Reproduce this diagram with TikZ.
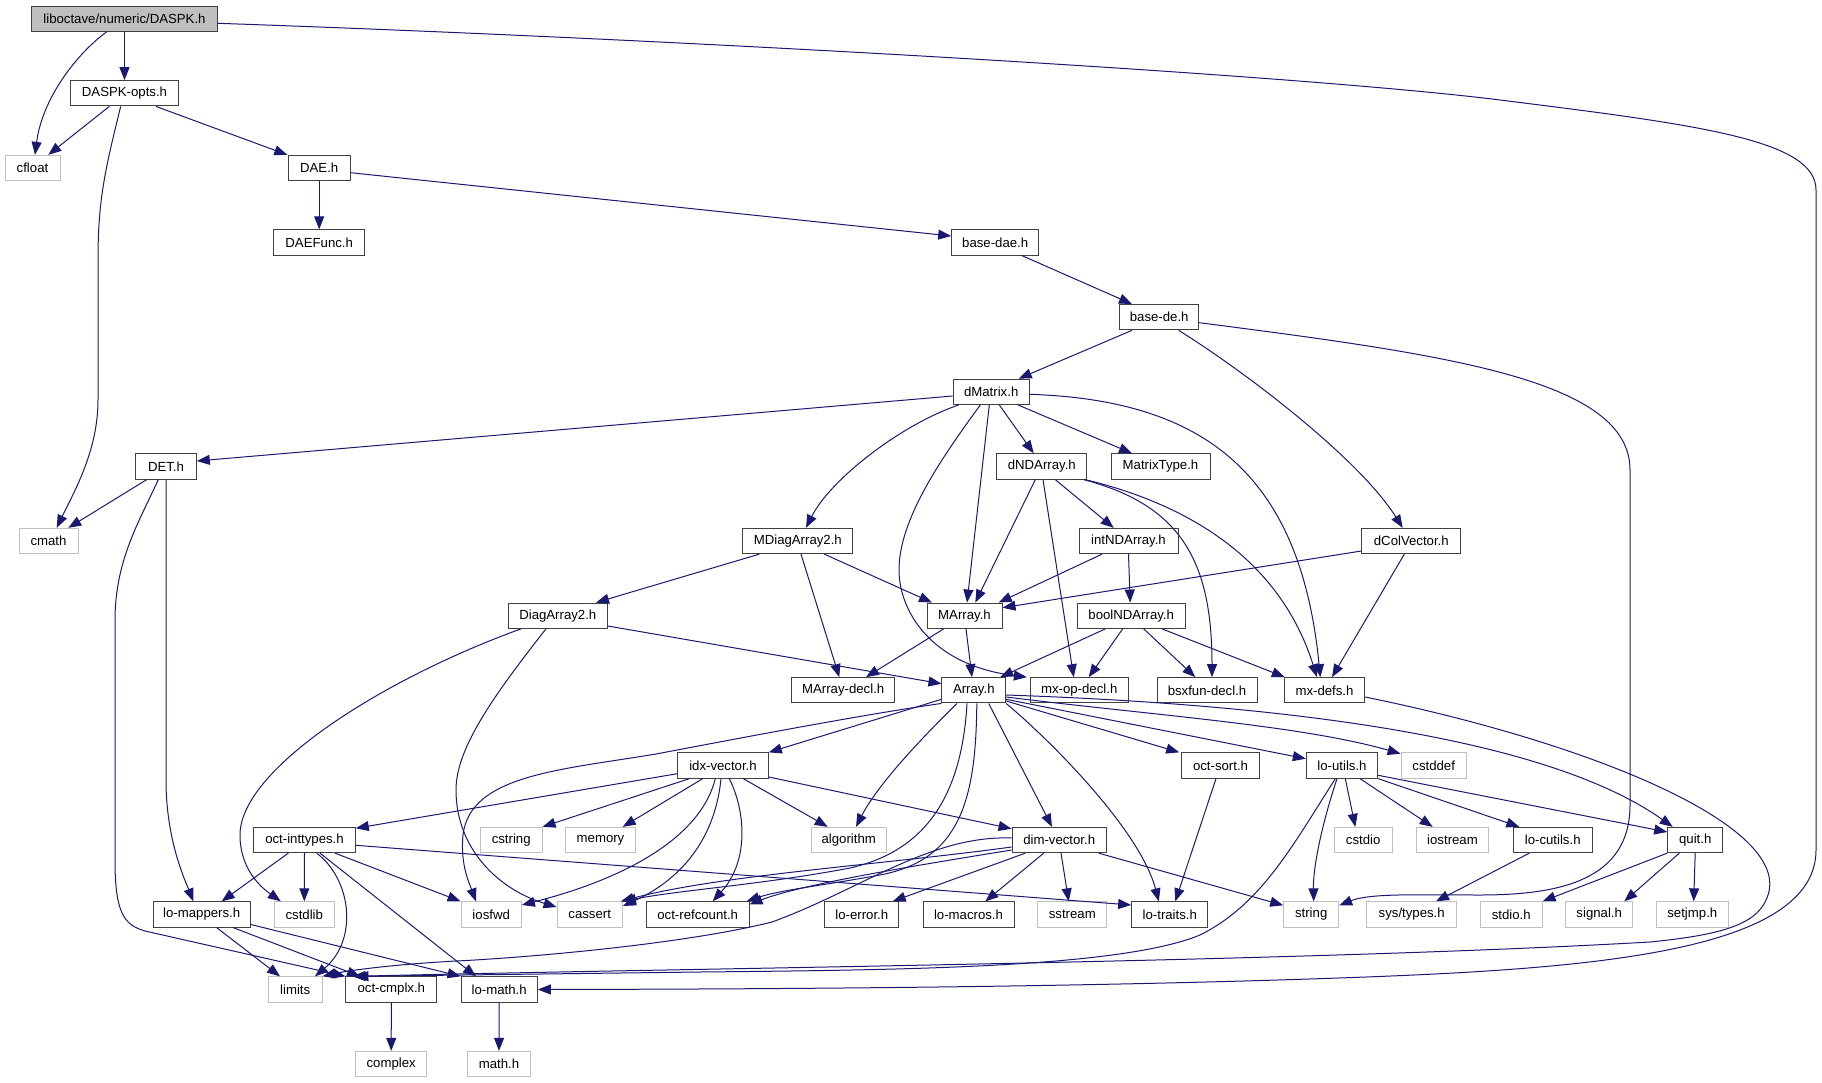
\documentclass[tikz,border=0pt]{standalone}
\usepackage{fontspec}
\setmainfont{Liberation Sans}
\usetikzlibrary{arrows.meta}
\definecolor{edgecol}{RGB}{25,25,112}
\definecolor{lgray}{RGB}{191,191,191}
\definecolor{bord}{RGB}{64,64,64}
\begin{document}
\begin{tikzpicture}[x=1pt,y=-1pt,
  every node/.style={font=\fontsize{13.2}{15}\selectfont, inner sep=0pt, minimum height=25.3pt, line width=1pt, text=black},
  nb/.style={draw=bord, fill=white},
  ng/.style={draw=lgray, fill=white},
  nr/.style={draw=bord, fill=lgray},
  e/.style={draw=edgecol, line width=1pt, -{Triangle[length=13pt,width=10pt]}}]
\useasboundingbox (0,0) rectangle (1822,1083);
% nodes
\node[nr, minimum width=185.6pt] (root) at (124.5,18.7) {liboctave/numeric/DASPK.h};
\node[nb, minimum width=108.4pt] (opts) at (124.5,93.3) {DASPK-opts.h};
\node[ng, minimum width=55pt] (cfloat) at (32.5,168) {cfloat};
\node[nb, minimum width=61.7pt] (dae) at (319.2,168) {DAE.h};
\node[nb, minimum width=91pt] (daefunc) at (319.2,242.5) {DAEFunc.h};
\node[nb, minimum width=87pt] (basedae) at (995.2,242.5) {base-dae.h};
\node[nb, minimum width=79pt] (basede) at (1159.2,317.2) {base-de.h};
\node[nb, minimum width=76.3pt] (dmatrix) at (991.2,391.8) {dMatrix.h};
\node[nb, minimum width=60.6pt] (det) at (166,466.5) {DET.h};
\node[nb, minimum width=90.3pt] (dnd) at (1041.8,466.5) {dNDArray.h};
\node[nb, minimum width=99pt] (mtype) at (1160.5,466.5) {MatrixType.h};
\node[ng, minimum width=59pt] (cmath) at (48.5,541) {cmath};
\node[nb, minimum width=109.7pt] (mdiag) at (797.8,541) {MDiagArray2.h};
\node[nb, minimum width=99pt] (intnd) at (1128.5,541) {intNDArray.h};
\node[nb, minimum width=98.7pt] (dcol) at (1411.3,541) {dColVector.h};
\node[nb, minimum width=99pt] (diag) at (557.8,615.7) {DiagArray2.h};
\node[nb, minimum width=75pt] (marray) at (964.5,615.7) {MArray.h};
\node[nb, minimum width=108.3pt] (boolnd) at (1131.2,615.7) {boolNDArray.h};
\node[nb, minimum width=103pt] (mdecl) at (843.2,690.3) {MArray-decl.h};
\node[nb, minimum width=63.7pt] (array) at (973.8,690.3) {Array.h};
\node[nb, minimum width=97.7pt] (mxop) at (1079.2,690.3) {mx-op-decl.h};
\node[nb, minimum width=100pt] (bsx) at (1207,690.3) {bsxfun-decl.h};
\node[nb, minimum width=80.4pt] (mxdefs) at (1324.5,690.3) {mx-defs.h};
\node[nb, minimum width=90.6pt] (idx) at (723,765.5) {idx-vector.h};
\node[nb, minimum width=77.6pt] (octsort) at (1220.5,765.5) {oct-sort.h};
\node[nb, minimum width=71.4pt] (loutils) at (1342,765.5) {lo-utils.h};
\node[ng, minimum width=65.3pt] (cstddef) at (1433.7,765.5) {cstddef};
\node[nb, minimum width=101.6pt] (inttypes) at (304.5,840) {oct-inttypes.h};
\node[ng, minimum width=61.7pt] (cstring) at (511.2,840) {cstring};
\node[ng, minimum width=69.6pt] (memory) at (600.5,840) {memory};
\node[ng, minimum width=74.7pt] (algorithm) at (848.7,840) {algorithm};
\node[nb, minimum width=94.3pt] (dimvec) at (1059.2,840) {dim-vector.h};
\node[ng, minimum width=57.7pt] (cstdio) at (1363.2,840) {cstdio};
\node[ng, minimum width=72.4pt] (iostream) at (1452.5,840) {iostream};
\node[nb, minimum width=79.3pt] (locutils) at (1552.7,840) {lo-cutils.h};
\node[nb, minimum width=55pt] (quit) at (1695.2,840) {quit.h};
\node[nb, minimum width=97.3pt] (lomappers) at (201.7,914.5) {lo-mappers.h};
\node[ng, minimum width=60pt] (cstdlib) at (304.3,914.5) {cstdlib};
\node[ng, minimum width=60.3pt] (iosfwd) at (491.2,914.5) {iosfwd};
\node[ng, minimum width=65.3pt] (cassert) at (589.7,914.5) {cassert};
\node[nb, minimum width=102.7pt] (refcount) at (697.7,914.5) {oct-refcount.h};
\node[nb, minimum width=73.7pt] (loerror) at (861.8,914.5) {lo-error.h};
\node[nb, minimum width=91pt] (lomacros) at (968.5,914.5) {lo-macros.h};
\node[ng, minimum width=69.3pt] (sstream) at (1072.3,914.5) {sstream};
\node[nb, minimum width=76.3pt] (lotraits) at (1169.8,914.5) {lo-traits.h};
\node[ng, minimum width=55pt] (string) at (1311.2,914.5) {string};
\node[ng, minimum width=90pt] (systypes) at (1411.7,914.5) {sys/types.h};
\node[ng, minimum width=61.7pt] (stdio) at (1511.2,914.5) {stdio.h};
\node[ng, minimum width=67pt] (signal) at (1599.2,914.5) {signal.h};
\node[ng, minimum width=72pt] (setjmp) at (1692.3,914.5) {setjmp.h};
\node[ng, minimum width=53.7pt] (limits) at (295.2,989.5) {limits};
\node[nb, minimum width=90.7pt] (octcmplx) at (391.3,989.5) {oct-cmplx.h};
\node[nb, minimum width=76.3pt] (lomath) at (499.2,989.5) {lo-math.h};
\node[ng, minimum width=71pt] (complex) at (391.2,1064) {complex};
\node[ng, minimum width=62.6pt] (mathh) at (499,1064) {math.h};
% edges
\draw[e] ([xshift=-17.8pt]root.south) .. controls (75,55) and (42,100) .. ([xshift=2.5pt]cfloat.north);
\draw[e] (root.south) -- (opts.north);
\draw[e] ([yshift=-4.6pt]root.east) .. controls (700,40) and (1300,75) .. (1500,100) .. controls (1700,125) and (1816,140) .. (1816,190) -- (1816,850) .. controls (1816,950) and (1600,968) .. (1366,977) .. controls (1100,987) and (800,989) .. (lomath.east);
\draw[e] ([xshift=-15.2pt]opts.south) -- ([xshift=15.8pt]cfloat.north);
\draw[e] ([xshift=-3.8pt]opts.south) .. controls (105,170) and (98,200) .. (98,260) -- (98,400) .. controls (98,450) and (75,490) .. ([xshift=8.2pt]cmath.north);
\draw[e] ([xshift=31.5pt]opts.south) -- ([xshift=-31.9pt]dae.north);
\draw[e] (dae.south) -- (daefunc.north);
\draw[e] ([yshift=-4.7pt]dae.east) -- ([yshift=6.5pt]basedae.west);
\draw[e] ([xshift=26.8pt]basedae.south) -- ([xshift=-27.2pt]basede.north);
\draw[e] ([xshift=-27.2pt]basede.south) -- ([xshift=27.5pt]dmatrix.north);
\draw[e] ([xshift=19.5pt]basede.south) .. controls (1250,375) and (1360,460) .. ([xshift=-8.6pt]dcol.north);
\draw[e] ([yshift=-5.5pt]basede.east) .. controls (1450,355) and (1630,380) .. (1630,470) -- (1630,805) .. controls (1630,880) and (1560,895) .. (1480,895) .. controls (1420,895) and (1370,893) .. ([yshift=9pt]string.east);
% dMatrix
\draw[e] ([yshift=-4.2pt]dmatrix.west) -- ([yshift=5.5pt]det.east);
\draw[e] ([xshift=-32.5pt]dmatrix.south) .. controls (900,425) and (830,480) .. ([xshift=8.2pt]mdiag.north);
\draw[e] ([xshift=-1.9pt]dmatrix.south) -- ([xshift=2.5pt]marray.north);
\draw[e] ([xshift=-10.9pt]dmatrix.south) .. controls (940,460) and (899,520) .. (899,570) .. controls (899,610) and (930,665) .. ([xshift=-3pt]mxop.north west);
\draw[e] ([xshift=8.1pt]dmatrix.south) -- ([xshift=-8.1pt]dnd.north);
\draw[e] ([xshift=26.8pt]dmatrix.south) -- ([xshift=-28.5pt]mtype.north);
\draw[e] ([yshift=-2.5pt]dmatrix.east) .. controls (1200,400) and (1300,470) .. ([xshift=-4.2pt]mxdefs.north);
% dNDArray
\draw[e] ([xshift=-6.5pt]dnd.south) -- ([xshift=10.8pt]marray.north);
\draw[e] ([xshift=1.2pt]dnd.south) -- ([xshift=-5.5pt]mxop.north);
\draw[e] ([xshift=13.5pt]dnd.south) -- ([xshift=-14.8pt]intnd.north);
\draw[e] ([xshift=41.9pt]dnd.south) .. controls (1180,505) and (1212,560) .. ([xshift=5pt]bsx.north);
\draw[e] ([xshift=-2pt]dnd.south east) .. controls (1190,505) and (1280,560) .. ([xshift=-7.5pt]mxdefs.north);
% intNDArray, dColVector, boolNDArray
\draw[e] ([xshift=-26.5pt]intnd.south) -- ([xshift=34.2pt]marray.north);
\draw[e] (intnd.south) -- ([xshift=-1pt]boolnd.north);
\draw[e] ([yshift=-10pt]dcol.west) -- ([yshift=8pt]marray.east);
\draw[e] ([xshift=-7pt]dcol.south) -- ([xshift=7.5pt]mxdefs.north);
\draw[e] ([xshift=-25.9pt]boolnd.south) -- ([xshift=26.5pt]array.north);
\draw[e] ([xshift=-8.5pt]boolnd.south) -- ([xshift=9.5pt]mxop.north);
\draw[e] ([xshift=12.5pt]boolnd.south) -- ([xshift=-11.7pt]bsx.north);
\draw[e] ([xshift=30.8pt]boolnd.south) -- ([xshift=1pt]mxdefs.north west);
% MDiagArray2, MArray, DiagArray2
\draw[e] ([xshift=-38.5pt]mdiag.south) -- ([xshift=38.2pt]diag.north);
\draw[e] ([xshift=3.2pt]mdiag.south) -- ([xshift=-3.9pt]mdecl.north);
\draw[e] ([xshift=26.5pt]mdiag.south) -- ([xshift=-32.5pt]marray.north);
\draw[e] ([xshift=-20.8pt]marray.south) -- ([xshift=22.8pt]mdecl.north);
\draw[e] ([xshift=1.5pt]marray.south) -- ([xshift=-1.8pt]array.north);
\draw[e] ([yshift=-10.3pt]diag.east) -- ([yshift=6.6pt]array.west);
\draw[e] ([xshift=-36.8pt]diag.south) .. controls (380,680) and (240,770) .. (240,835) .. controls (240,870) and (262,888) .. ([xshift=7pt]cstdlib.north west);
\draw[e] ([xshift=-11.8pt]diag.south) .. controls (490,700) and (456,750) .. (456,790) .. controls (456,850) and (500,890) .. ([yshift=7.5pt]cassert.west);
% DET
\draw[e] ([xshift=-19.3pt]det.south) -- ([xshift=19.8pt]cmath.north);
\draw[e] (det.south) -- (166,780) .. controls (166,840) and (185,880) .. ([xshift=-8.4pt]lomappers.north);
\draw[e] ([xshift=-7.7pt]det.south) .. controls (140,520) and (115,560) .. (115,620) -- (115,860) .. controls (115,915) and (125,925) .. (145,931) -- (octcmplx.north west);
% lo-mappers, oct-inttypes
\draw[e] ([xshift=15pt]lomappers.south) -- ([xshift=-15.2pt]limits.north);
\draw[e] ([xshift=31.6pt]lomappers.south) -- ([xshift=-31.3pt]octcmplx.north);
\draw[e] ([yshift=-10pt]lomappers.east) -- (lomath.north west);
\draw[e] ([xshift=-16.2pt]inttypes.south) -- ([xshift=20pt]lomappers.north);
\draw[e] (inttypes.south) -- (cstdlib.north);
\draw[e] ([xshift=12.2pt]inttypes.south) .. controls (352,880) and (358,940) .. ([xshift=19.8pt]limits.north);
\draw[e] ([xshift=15.5pt]inttypes.south) -- ([xshift=-23.2pt]lomath.north);
\draw[e] ([xshift=30.5pt]inttypes.south) -- (iosfwd.north west);
\draw[e] ([yshift=-5.3pt]inttypes.east) -- ([yshift=9.5pt]lotraits.west);
% Array
\draw[e] ([yshift=-9pt]array.west) -- (idx.north east);
\draw[e] (array.south west) .. controls (860,715) and (730,740) .. (656,754) .. controls (560,770) and (470,775) .. (463,835) .. controls (460,865) and (470,885) .. ([xshift=-15.2pt]iosfwd.north);
\draw[e] ([xshift=-16.8pt]array.south) .. controls (935,725) and (880,780) .. ([xshift=7.3pt]algorithm.north);
\draw[e] ([xshift=-6.8pt]array.south) .. controls (962,790) and (930,850) .. (850,868) .. controls (760,885) and (680,890) .. (cassert.north east);
\draw[e] ([xshift=3pt]array.south) .. controls (976,800) and (960,860) .. (880,875) .. controls (820,886) and (780,890) .. ([xshift=-3pt]refcount.north east);
\draw[e] ([xshift=14.9pt]array.south) -- ([xshift=-7.2pt]dimvec.north);
\draw[e] (array.south east) .. controls (1050,740) and (1140,830) .. ([xshift=-11pt]lotraits.north);
\draw[e] ([yshift=-10.7pt]array.east) -- ([xshift=-2pt]octsort.north west);
\draw[e] ([yshift=-9pt]array.east) -- ([yshift=6.8pt]loutils.west);
\draw[e] ([yshift=-6.7pt]array.east) .. controls (1150,715) and (1300,725) .. ([yshift=11.8pt]cstddef.west);
\draw[e] ([yshift=-4.7pt]array.east) .. controls (1300,705) and (1550,740) .. ([xshift=-22.5pt]quit.north);
% idx-vector
\draw[e] ([yshift=-8.2pt]idx.west) -- ([yshift=-1.4pt]inttypes.north east);
\draw[e] ([xshift=-33.7pt]idx.south) -- (cstring.north east);
\draw[e] ([xshift=-20.3pt]idx.south) -- ([xshift=22.2pt]memory.north);
\draw[e] ([xshift=-7.7pt]idx.south) .. controls (700,840) and (620,880) .. ([yshift=9.5pt]iosfwd.east);
\draw[e] ([xshift=-2pt]idx.south) .. controls (715,840) and (680,880) .. ([yshift=8.5pt]cassert.east);
\draw[e] ([xshift=6.3pt]idx.south) .. controls (745,810) and (750,860) .. ([xshift=15pt]refcount.north);
\draw[e] ([xshift=20.3pt]idx.south) -- ([xshift=-21pt]algorithm.north);
\draw[e] ([yshift=-11.5pt]idx.east) -- ([yshift=11.3pt]dimvec.west);
% dim-vector
\draw[e] ([xshift=-15.5pt]dimvec.south) -- ([xshift=16.8pt]lomacros.north);
\draw[e] ([xshift=1.8pt]dimvec.south) -- ([xshift=-3.6pt]sstream.north);
\draw[e] ([xshift=39.5pt]dimvec.south) -- ([yshift=9.2pt]string.west);
\draw[e] ([xshift=-33.9pt]dimvec.south) -- ([xshift=30.9pt]loerror.north);
\draw[e] ([yshift=-7pt]dimvec.west) .. controls (880,865) and (720,875) .. ([xshift=-2pt]cassert.north east);
\draw[e] ([yshift=-10pt]dimvec.west) .. controls (900,868) and (800,885) .. ([yshift=-3pt]refcount.north east);
\draw[e] ([yshift=2pt]dimvec.west) .. controls (930,835) and (860,890) .. (772,922) .. controls (680,945) and (520,958) .. (456,961) .. controls (400,964) and (350,970) .. (limits.north east);
% oct-sort, lo-utils
\draw[e] ([xshift=-4.5pt]octsort.south) -- ([xshift=5.5pt]lotraits.north);
\draw[e] ([xshift=3.3pt]loutils.south) -- ([xshift=-7.9pt]cstdio.north);
\draw[e] ([xshift=-5pt]loutils.south) .. controls (1320,830) and (1313,870) .. ([xshift=2.5pt]string.north);
\draw[e] ([xshift=-6.7pt]loutils.south) .. controls (1290,850) and (1260,905) .. (1200,935) .. controls (1120,968) and (900,970) .. (700,972) -- ([xshift=10pt]octcmplx.north west);
\draw[e] ([xshift=18pt]loutils.south) -- ([xshift=-19.8pt]iostream.north);
\draw[e] (loutils.south east) -- ([xshift=-33.4pt]locutils.north);
\draw[e] ([yshift=-9.8pt]loutils.east) -- ([yshift=8pt]quit.west);
% lo-cutils, quit
\draw[e] ([xshift=-23.4pt]locutils.south) -- ([xshift=24.3pt]systypes.north);
\draw[e] (quit.south west) -- (stdio.north east);
\draw[e] ([xshift=-15.9pt]quit.south) -- ([xshift=25.1pt]signal.north);
\draw[e] (quit.south) -- ([xshift=1.4pt]setjmp.north);
% mx-defs
\draw[e] ([yshift=-6.7pt]mxdefs.east) .. controls (1600,745) and (1800,830) .. (1766,900) .. controls (1755,925) and (1720,935) .. (1650,942) .. controls (1300,962) and (700,968) .. ([xshift=7pt]octcmplx.north west);
% leaves
\draw[e] (octcmplx.south) -- (complex.north);
\draw[e] (lomath.south) -- (mathh.north);
\end{tikzpicture}
\end{document}
